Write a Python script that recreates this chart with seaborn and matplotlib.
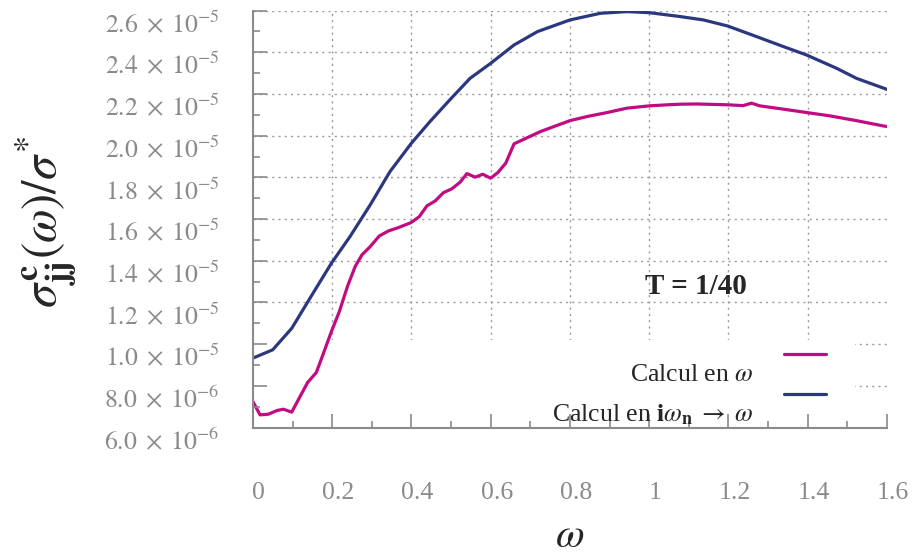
import numpy as np
import pandas as pd
import matplotlib
matplotlib.use("Agg")
import matplotlib.pyplot as plt
import matplotlib.transforms as mtransforms
from matplotlib.patches import Rectangle
from matplotlib.ticker import FuncFormatter, MultipleLocator
import seaborn as sns

# --- données (sigma en unités de 1e-5) ---
omega_reel = [0.0, 0.018, 0.039, 0.061, 0.077, 0.098, 0.119, 0.138, 0.16, 0.178,
              0.198, 0.218, 0.239, 0.258, 0.275, 0.296, 0.319, 0.342, 0.367, 0.399,
              0.42, 0.439, 0.46, 0.481, 0.502, 0.523, 0.54, 0.561, 0.58, 0.6,
              0.618, 0.638, 0.659, 0.693, 0.726, 0.76, 0.8, 0.844, 0.894, 0.944,
              1.0, 1.046, 1.079, 1.12, 1.198, 1.237, 1.258, 1.279, 1.339, 1.397,
              1.456, 1.523, 1.59, 1.6]
sigma_reel = [0.725, 0.661, 0.664, 0.682, 0.688, 0.674, 0.749, 0.816, 0.864, 0.956,
              1.06, 1.156, 1.279, 1.372, 1.428, 1.468, 1.519, 1.543, 1.559, 1.583,
              1.612, 1.663, 1.687, 1.727, 1.745, 1.777, 1.818, 1.801, 1.815, 1.796,
              1.823, 1.868, 1.961, 1.991, 2.02, 2.044, 2.072, 2.092, 2.111, 2.132,
              2.143, 2.148, 2.151, 2.152, 2.148, 2.144, 2.156, 2.143, 2.127, 2.111,
              2.095, 2.072, 2.047, 2.044]

omega_matsu = [0.0, 0.05, 0.098, 0.149, 0.198, 0.245, 0.296, 0.346, 0.4, 0.447,
               0.497, 0.548, 0.6, 0.659, 0.718, 0.8, 0.877, 0.944, 1.0, 1.079,
               1.137, 1.198, 1.271, 1.339, 1.397, 1.473, 1.523, 1.6]
sigma_matsu = [0.933, 0.973, 1.076, 1.236, 1.388, 1.516, 1.668, 1.828, 1.964, 2.068,
               2.172, 2.275, 2.347, 2.435, 2.499, 2.555, 2.587, 2.595, 2.59, 2.571,
               2.555, 2.526, 2.475, 2.427, 2.387, 2.323, 2.275, 2.222]

label_reel = r"Calcul en $\omega$"
label_matsu = r"Calcul en $\mathbf{i}\omega_\mathbf{n}\;\rightarrow\;\omega$"
couleurs = {label_reel: "#c20a82", label_matsu: "#2b3880"}

x_ticks = [0, 0.2, 0.4, 0.6, 0.8, 1.0, 1.2, 1.4, 1.6]
y_ticks = [0.6, 0.8, 1.0, 1.2, 1.4, 1.6, 1.8, 2.0, 2.2, 2.4, 2.6]

df = pd.concat([
    pd.DataFrame({"omega": omega_reel, "sigma": np.array(sigma_reel) * 1e-5, "calcul": label_reel}),
    pd.DataFrame({"omega": omega_matsu, "sigma": np.array(sigma_matsu) * 1e-5, "calcul": label_matsu}),
])

# --- style ---
sns.set_style("white")
plt.rcParams["font.family"] = ["Liberation Serif", "DejaVu Serif"]
plt.rcParams["mathtext.fontset"] = "stix"
gris = "#8a8a8a"

fig = plt.figure(figsize=(9.13, 5.56), dpi=100)
ax = fig.add_axes([0.277, 0.231, 0.6945, 0.75])
ax.set_axisbelow(False)

# grille pointillée (sous le cache blanc de la légende)
for xv in x_ticks[1:-1]:
    ax.axvline(xv, color="#9a9a9a", lw=1.0, ls=(0, (1.5, 3)), zorder=0.8)
for yv in y_ticks[1:]:
    ax.axhline(yv * 1e-5, color="#9a9a9a", lw=1.0, ls=(0, (1.5, 3)), zorder=0.8)
ax.add_patch(Rectangle((0, 0), 0.95, 0.21, transform=ax.transAxes,
                       facecolor="white", edgecolor="none", zorder=1))

sns.lineplot(data=df, x="omega", y="sigma", hue="calcul", palette=couleurs,
             linewidth=2.3, ax=ax, legend=False, zorder=2, sort=False)

ax.set_xlim(0, 1.6)
ax.set_ylim(0.6e-5, 2.6e-5)
ax.set_xticks(x_ticks)
ax.set_yticks([v * 1e-5 for v in y_ticks])
ax.xaxis.set_minor_locator(MultipleLocator(0.1))
ax.yaxis.set_minor_locator(MultipleLocator(0.1e-5))


def fmt_y(v, pos):
    e = int(np.floor(np.log10(v) + 1e-9))
    m = v / 10 ** e
    return rf"${m:.1f}\;\times\;10^{{{e}}}$"


def fmt_x(v, pos):
    return f"{v:g}"


ax.yaxis.set_major_formatter(FuncFormatter(fmt_y))
ax.xaxis.set_major_formatter(FuncFormatter(fmt_x))

ax.tick_params(axis="both", which="both", bottom=True, left=True, top=False, right=False)
ax.tick_params(axis="both", which="major", direction="in", length=10, width=1.2,
               color=gris, labelcolor=gris, labelsize=18.5)
ax.tick_params(axis="both", which="minor", direction="in", length=5, width=1.2, color=gris)
ax.tick_params(axis="x", which="major", pad=39)
ax.tick_params(axis="y", which="major", pad=24)

for s in ["top", "right"]:
    ax.spines[s].set_visible(False)
for s in ["left", "bottom"]:
    ax.spines[s].set_color(gris)
    ax.spines[s].set_linewidth(1.5)
    ax.spines[s].set_zorder(3)

for lab in ax.get_yticklabels():
    lab.set_va("top")
decal_x = mtransforms.ScaledTranslation(0.06, 0, fig.dpi_scale_trans)
for lab in ax.get_xticklabels():
    lab.set_transform(lab.get_transform() + decal_x)

ax.set_xlabel(r"$\omega$", fontsize=30)
ax.xaxis.set_label_coords(0.5, -0.262)
ax.xaxis.label.set_va("center")
ax.set_ylabel(r"$\sigma^{\mathbf{c}}_{\mathbf{jj}}(\omega)/\sigma^{*}$", fontsize=35)
ax.yaxis.set_label_coords(-0.275, 0.493)

ax.text(1.118, 1.278e-5, "T = 1/40", fontsize=21, fontweight="bold",
        ha="center", va="center")

# légende : texte à gauche, trait à droite, texte un peu plus bas que le trait
handles = [plt.Line2D([], [], color=couleurs[label_reel], lw=2.3),
           plt.Line2D([], [], color=couleurs[label_matsu], lw=2.3)]
leg = ax.legend(handles, [label_reel, label_matsu], loc="upper right",
                bbox_to_anchor=(0.904, 0.197), markerfirst=False, frameon=False,
                fontsize=18.5, handlelength=1.65, handletextpad=1.2, labelspacing=0.62,
                borderaxespad=0, borderpad=0)
decal = mtransforms.ScaledTranslation(0, -0.18, fig.dpi_scale_trans)
for t in leg.get_texts():
    t.set_transform(t.get_transform() + decal)

plt.savefig("out.png", dpi=100)
